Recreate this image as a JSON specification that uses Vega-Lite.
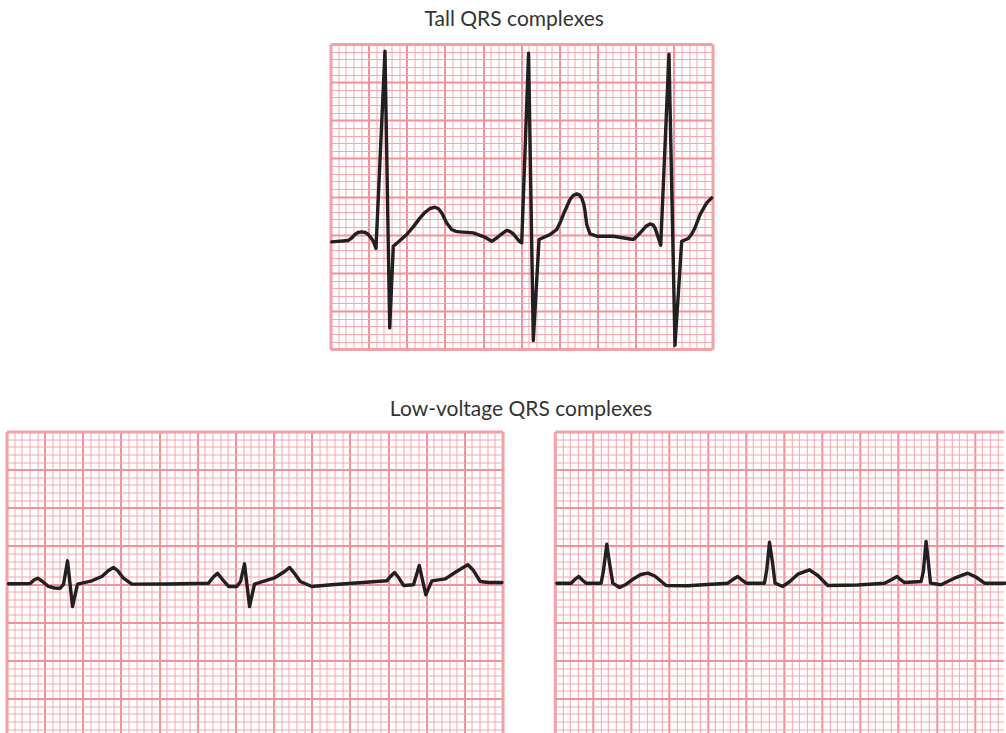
{
  "$schema": "https://vega.github.io/schema/vega-lite/v6.json",
  "background": "white",
  "padding": {"left": 6.5, "top": 9, "right": 0, "bottom": 0},
  "config": {
    "view": {"stroke": null},
    "axis": {"labels": false, "ticks": false, "domain": false, "grid": true, "minExtent": 0, "maxExtent": 0, "titlePadding": 0, "title": null},
    "title": {"font": "Lato", "fontSize": 21, "fontWeight": "normal", "color": "#333333"},
    "line": {"color": "#231f20", "strokeWidth": 3.4, "strokeJoin": "round", "strokeCap": "round", "clip": true}
  },
  "datasets": {
    "tall": [
      {"t":0.16,"v":0.06},{"t":2.33,"v":0.25},{"t":2.8,"v":0.6},{"t":3.21,"v":1.03},{"t":3.6,"v":1.3},{"t":4.08,"v":1.37},{"t":4.55,"v":1.3},{"t":4.95,"v":1.03},{"t":5.3,"v":0.6},{"t":5.61,"v":0.15},{"t":5.96,"v":-0.8},{"t":7.14,"v":25.05},{"t":7.76,"v":-11.21},{"t":8.23,"v":-0.5},{"t":9.11,"v":0.25},{"t":9.99,"v":1.03},{"t":10.9,"v":2.1},{"t":11.73,"v":3.21},{"t":12.4,"v":3.95},{"t":13.04,"v":4.44},{"t":13.69,"v":4.61},{"t":14.15,"v":4.4},{"t":14.57,"v":3.87},{"t":15.23,"v":2.55},{"t":15.88,"v":1.69},{"t":16.4,"v":1.45},{"t":16.97,"v":1.37},{"t":18.72,"v":1.24},{"t":19.5,"v":0.95},{"t":20.25,"v":0.68},{"t":21.13,"v":0.15},{"t":21.7,"v":0.5},{"t":22.22,"v":0.94},{"t":23.09,"v":1.56},{"t":23.5,"v":1.45},{"t":23.96,"v":1.11},{"t":24.74,"v":0.15},{"t":25.06,"v":-0.07},{"t":25.96,"v":24.79},{"t":26.58,"v":-12.86},{"t":27.33,"v":0.38},{"t":28.77,"v":1.03},{"t":29.65,"v":1.69},{"t":30.1,"v":2.6},{"t":30.51,"v":3.65},{"t":31.39,"v":5.62},{"t":31.8,"v":6.15},{"t":32.27,"v":6.35},{"t":32.65,"v":6.2},{"t":32.92,"v":5.83},{"t":33.2,"v":5.0},{"t":33.36,"v":4.09},{"t":33.58,"v":2.34},{"t":34.01,"v":1.11},{"t":34.89,"v":0.81},{"t":37.07,"v":0.81},{"t":39.69,"v":0.38},{"t":40.25,"v":0.9},{"t":40.79,"v":1.47},{"t":41.4,"v":2.15},{"t":41.87,"v":2.42},{"t":42.25,"v":2.3},{"t":42.53,"v":1.9},{"t":42.97,"v":0.59},{"t":43.28,"v":-0.37},{"t":44.36,"v":24.66},{"t":45.15,"v":-13.48},{"t":46.03,"v":0.15},{"t":46.89,"v":0.51},{"t":47.35,"v":1.1},{"t":47.77,"v":1.9},{"t":48.43,"v":3.65},{"t":49.3,"v":5.17},{"t":49.96,"v":5.83}
    ],
    "lowA": [
      {"t":0.26,"v":0.04},{"t":3.11,"v":0.08},{"t":3.6,"v":0.54},{"t":4.1,"v":0.77},{"t":4.72,"v":0.34},{"t":5.5,"v":-0.31},{"t":6.29,"v":-0.51},{"t":7.04,"v":-0.54},{"t":7.47,"v":-0.05},{"t":8.0,"v":3.05},{"t":8.65,"v":-2.94},{"t":9.31,"v":-0.01},{"t":11.18,"v":0.43},{"t":12.49,"v":1.0},{"t":13.37,"v":1.78},{"t":14.02,"v":2.18},{"t":14.55,"v":1.78},{"t":15.33,"v":0.77},{"t":16.42,"v":-0.01},{"t":21.23,"v":0.01},{"t":26.47,"v":0.12},{"t":27.06,"v":0.86},{"t":27.65,"v":1.43},{"t":28.31,"v":0.6},{"t":29.1,"v":-0.31},{"t":30.18,"v":-0.31},{"t":30.67,"v":0.34},{"t":31.19,"v":2.66},{"t":31.85,"v":-2.94},{"t":32.5,"v":-0.01},{"t":35.22,"v":0.86},{"t":36.44,"v":1.65},{"t":37.09,"v":2.18},{"t":37.75,"v":1.39},{"t":38.49,"v":0.34},{"t":40.01,"v":-0.31},{"t":42.6,"v":-0.09},{"t":49.84,"v":0.43},{"t":50.33,"v":1.0},{"t":50.85,"v":1.52},{"t":51.38,"v":0.86},{"t":52.03,"v":-0.18},{"t":53.34,"v":-0.09},{"t":54.09,"v":2.44},{"t":54.95,"v":-1.4},{"t":55.74,"v":0.43},{"t":57.5,"v":0.69},{"t":58.98,"v":1.65},{"t":60.46,"v":2.53},{"t":61.21,"v":1.78},{"t":62.08,"v":0.34},{"t":63.17,"v":0.21},{"t":64.92,"v":0.21}
    ],
    "lowB": [
      {"t":0.26,"v":0.12},{"t":2.14,"v":0.12},{"t":2.62,"v":0.6},{"t":3.15,"v":1.0},{"t":3.6,"v":0.54},{"t":4.1,"v":0.12},{"t":6.07,"v":0.12},{"t":6.36,"v":1.65},{"t":6.82,"v":5.23},{"t":7.14,"v":2.96},{"t":7.6,"v":0.12},{"t":8.48,"v":-0.45},{"t":9.31,"v":-0.05},{"t":10.45,"v":0.77},{"t":11.27,"v":1.26},{"t":12.19,"v":1.43},{"t":13.11,"v":1.06},{"t":14.59,"v":-0.18},{"t":17.43,"v":-0.22},{"t":22.67,"v":0.12},{"t":23.33,"v":0.6},{"t":23.98,"v":1.0},{"t":24.51,"v":0.54},{"t":25.07,"v":0.12},{"t":27.48,"v":0.12},{"t":27.78,"v":1.91},{"t":28.14,"v":5.49},{"t":28.51,"v":2.96},{"t":28.87,"v":0.12},{"t":29.88,"v":-0.31},{"t":30.8,"v":0.34},{"t":31.85,"v":1.3},{"t":33.38,"v":1.87},{"t":34.47,"v":1.13},{"t":35.78,"v":-0.18},{"t":39.71,"v":-0.12},{"t":43.21,"v":0.12},{"t":44.17,"v":0.6},{"t":44.86,"v":1.0},{"t":45.35,"v":0.54},{"t":45.83,"v":0.21},{"t":48.01,"v":0.34},{"t":48.3,"v":1.65},{"t":48.66,"v":5.58},{"t":48.95,"v":2.96},{"t":49.24,"v":0.12},{"t":50.63,"v":-0.09},{"t":52.56,"v":0.86},{"t":54.13,"v":1.43},{"t":55.18,"v":0.93},{"t":56.32,"v":0.12},{"t":58.72,"v":0.12},{"t":60.68,"v":0.12}
    ]
  },
  "spacing": 48.5,
  "vconcat": [
    {
      "spacing": 0,
      "hconcat": [
        {
          "width": 322.5, "height": 10,
          "data": {"values": [{}]},
          "mark": {"type": "point", "opacity": 0},
          "encoding": {}
        },
        {
          "width": 381.5, "height": 305.2,
          "title": {"text": "Tall QRS complexes", "dx": -7, "offset": 14},
          "data": {"name": "tall"},
          "mark": {"type": "line"},
          "encoding": {
            "x": {"field": "t", "type": "quantitative", "scale": {"domain": [0, 50], "nice": false, "zero": false},
              "axis": {
                "values": [0,1,2,3,4,5,6,7,8,9,10,11,12,13,14,15,16,17,18,19,20,21,22,23,24,25,26,27,28,29,30,31,32,33,34,35,36,37,38,39,40,41,42,43,44,45,46,47,48,49,50],
                "gridWidth": {"condition": [{"test": "datum.value === 0 || datum.value === 50", "value": 3}, {"test": "datum.value % 5 === 0", "value": 2}], "value": 1},
                "gridColor": {"condition": [{"test": "datum.value === 0 || datum.value === 50", "value": "#f5a0a6"}, {"test": "datum.value % 5 === 0", "value": "#f3929a"}], "value": "#f6a8ae"}
              }},
            "y": {"field": "v", "type": "quantitative", "scale": {"domain": [-14, 26], "nice": false, "zero": false},
              "axis": {
                "values": [-14,-13,-12,-11,-10,-9,-8,-7,-6,-5,-4,-3,-2,-1,0,1,2,3,4,5,6,7,8,9,10,11,12,13,14,15,16,17,18,19,20,21,22,23,24,25,26],
                "gridWidth": {"condition": [{"test": "datum.value === -14 || datum.value === 26", "value": 3}, {"test": "(datum.value + 14) % 5 === 0", "value": 2}], "value": 1},
                "gridColor": {"condition": [{"test": "datum.value === -14 || datum.value === 26", "value": "#f5a0a6"}, {"test": "(datum.value + 14) % 5 === 0", "value": "#f3929a"}], "value": "#f6a8ae"}
              }}
          }
        }
      ]
    },
    {
      "spacing": 50.3,
      "title": {"text": "Low-voltage QRS complexes", "anchor": "middle", "dx": 8, "offset": 12},
      "hconcat": [
        {
          "width": 496, "height": 302.9,
          "data": {"name": "lowA"},
          "mark": {"type": "line"},
          "encoding": {
            "x": {"field": "t", "type": "quantitative", "scale": {"domain": [0, 65], "nice": false, "zero": false},
              "axis": {
                "values": [0,1,2,3,4,5,6,7,8,9,10,11,12,13,14,15,16,17,18,19,20,21,22,23,24,25,26,27,28,29,30,31,32,33,34,35,36,37,38,39,40,41,42,43,44,45,46,47,48,49,50,51,52,53,54,55,56,57,58,59,60,61,62,63,64,65],
                "gridWidth": {"condition": [{"test": "datum.value === 0 || datum.value === 65", "value": 3}, {"test": "datum.value % 5 === 0", "value": 2}], "value": 1},
                "gridColor": {"condition": [{"test": "datum.value === 0 || datum.value === 65", "value": "#f5a0a6"}, {"test": "datum.value % 5 === 0", "value": "#f3929a"}], "value": "#f6a8ae"}
              }},
            "y": {"field": "v", "type": "quantitative", "scale": {"domain": [-19.7, 20], "nice": false, "zero": false},
              "axis": {
                "values": [-19,-18,-17,-16,-15,-14,-13,-12,-11,-10,-9,-8,-7,-6,-5,-4,-3,-2,-1,0,1,2,3,4,5,6,7,8,9,10,11,12,13,14,15,16,17,18,19,20],
                "gridWidth": {"condition": [{"test": "datum.value === 20", "value": 3}, {"test": "datum.value % 5 === 0", "value": 2}], "value": 1},
                "gridColor": {"condition": [{"test": "datum.value === 20", "value": "#f5a0a6"}, {"test": "datum.value % 5 === 0", "value": "#f3929a"}], "value": "#f6a8ae"}
              }}
          }
        },
        {
          "width": 448.5, "height": 302.9,
          "data": {"name": "lowB"},
          "mark": {"type": "line"},
          "encoding": {
            "x": {"field": "t", "type": "quantitative", "scale": {"domain": [0, 58.78], "nice": false, "zero": false},
              "axis": {
                "values": [0,1,2,3,4,5,6,7,8,9,10,11,12,13,14,15,16,17,18,19,20,21,22,23,24,25,26,27,28,29,30,31,32,33,34,35,36,37,38,39,40,41,42,43,44,45,46,47,48,49,50,51,52,53,54,55,56,57,58],
                "gridWidth": {"condition": [{"test": "datum.value === 0", "value": 3}, {"test": "datum.value % 5 === 0", "value": 2}], "value": 1},
                "gridColor": {"condition": [{"test": "datum.value === 0", "value": "#f5a0a6"}, {"test": "datum.value % 5 === 0", "value": "#f3929a"}], "value": "#f6a8ae"}
              }},
            "y": {"field": "v", "type": "quantitative", "scale": {"domain": [-19.7, 20], "nice": false, "zero": false},
              "axis": {
                "values": [-19,-18,-17,-16,-15,-14,-13,-12,-11,-10,-9,-8,-7,-6,-5,-4,-3,-2,-1,0,1,2,3,4,5,6,7,8,9,10,11,12,13,14,15,16,17,18,19,20],
                "gridWidth": {"condition": [{"test": "datum.value === 20", "value": 3}, {"test": "datum.value % 5 === 0", "value": 2}], "value": 1},
                "gridColor": {"condition": [{"test": "datum.value === 20", "value": "#f5a0a6"}, {"test": "datum.value % 5 === 0", "value": "#f3929a"}], "value": "#f6a8ae"}
              }}
          }
        }
      ]
    }
  ]
}
